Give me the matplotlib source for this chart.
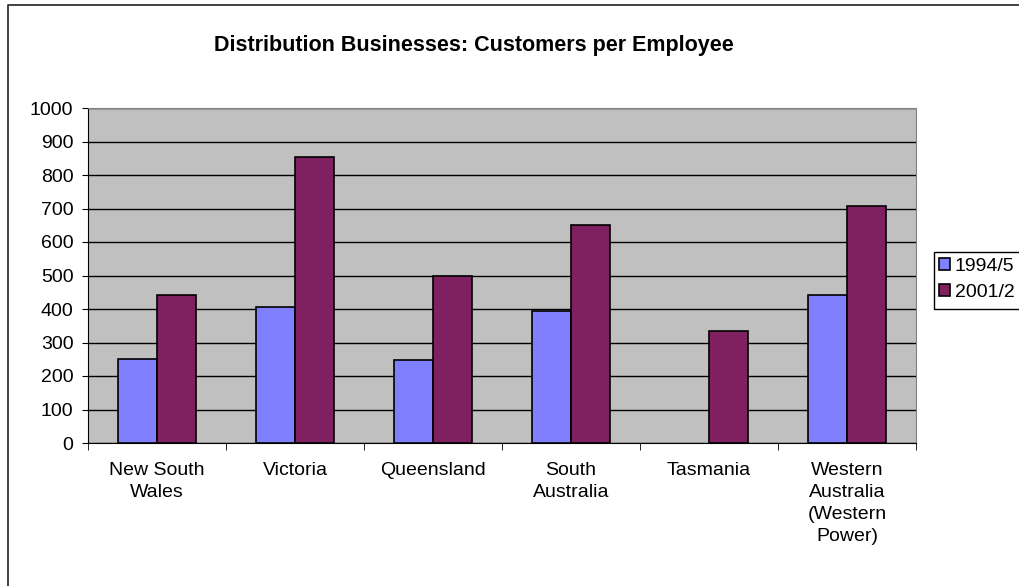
import numpy as np
import matplotlib.pyplot as plt
from matplotlib.patches import Rectangle
from matplotlib.lines import Line2D

plt.rcParams['font.family'] = ['Liberation Sans', 'DejaVu Sans']

categories = ['New South\nWales', 'Victoria', 'Queensland', 'South\nAustralia',
              'Tasmania', 'Western\nAustralia\n(Western\nPower)']
series_names = ['1994/5', '2001/2']
values_1994 = [252, 405, 248, 395, np.nan, 442]
values_2001 = [443, 855, 499, 651, 333, 708]
colors = ['#8080FF', '#802060']

W, H = 1020, 586
fig = plt.figure(figsize=(W / 100, H / 100), dpi=100)
ax = fig.add_axes([88 / W, 143 / H, 828 / W, 335 / H])
ax.set_facecolor('#C0C0C0')

x = np.arange(len(categories))
w = 1 / 3.5
for i, vals in enumerate([values_1994, values_2001]):
    ax.bar(x + (i - 0.5) * w, vals, width=w, color=colors[i],
           edgecolor='black', linewidth=1.2, zorder=3, label=series_names[i])

ax.set_xlim(-0.5, len(categories) - 0.5)
ax.set_ylim(0, 1000)
ax.set_yticks(range(0, 1001, 100))
ax.yaxis.grid(True, color='black', linewidth=1, zorder=1)
ax.set_axisbelow(True)

ax.set_xticks(x)
ax.set_xticklabels(categories, fontsize=14, linespacing=1.38, va='top')
ax.tick_params(axis='x', length=0, pad=14)
ax.set_xticks(np.arange(-0.5, len(categories)), minor=True)
ax.tick_params(axis='x', which='minor', length=5, direction='out', color='black')
ax.tick_params(axis='y', labelsize=14, length=4.5, direction='out', pad=6)

for s in ['top', 'right']:
    ax.spines[s].set_color('#808080')
for s in ['left', 'bottom']:
    ax.spines[s].set_color('black')

fig.text(474 / W, 1 - 46 / H, 'Distribution Businesses: Customers per Employee',
         ha='center', va='center', fontsize=15.5, fontweight='bold')

# legend (box runs past the right edge, as in the original)
handles, labels = ax.get_legend_handles_labels()
leg = fig.legend(handles, labels, loc='upper left',
                 bbox_to_anchor=(939 / W, 1 - 258 / H),
                 fontsize=14, frameon=False,
                 handlelength=0.55, handleheight=0.55, handletextpad=0.25,
                 borderpad=0, labelspacing=0.45, borderaxespad=0)
fig.patches.append(Rectangle((934 / W, 1 - 309 / H), 120 / W, 57 / H,
                             transform=fig.transFigure, fill=False,
                             edgecolor='black', linewidth=1))

# outer chart border (left and top visible, rest cropped)
fig.add_artist(Line2D([8 / W, 8 / W, 1.0], [0.0, 1 - 5 / H, 1 - 5 / H],
                      transform=fig.transFigure, color='#333333', linewidth=1.3))

fig.savefig('out.png', dpi=100)
